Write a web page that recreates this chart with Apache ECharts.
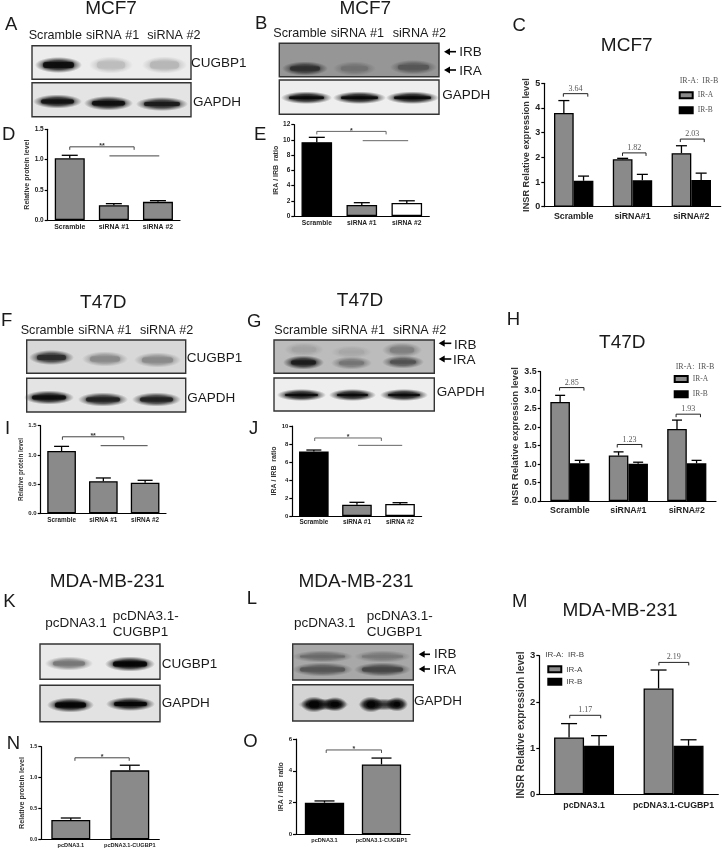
<!DOCTYPE html>
<html>
<head>
<meta charset="utf-8">
<title>CUGBP1</title>
<style>
html, body { margin: 0; padding: 0; background: #fff; }
#main { width: 726px; height: 852px; }
</style>
<script src="https://cdn.jsdelivr.net/npm/echarts@6/dist/echarts.min.js"></script>
</head>
<body>
<div id="main"></div>
<script>
// categories
var siCats = ['Scramble', 'siRNA #1', 'siRNA #2'];
var siCatsTight = ['Scramble', 'siRNA#1', 'siRNA#2'];
var pcCats = ['pcDNA3.1', 'pcDNA3.1-CUGBP1'];
var legendNames = ['IR-A', 'IR-B'];

// single-series panels: bar value and top of the error bar
var dValues = [1.02, 0.245, 0.30];
var dTops = [1.07, 0.27, 0.32];
var eValues = [9.7, 1.45, 1.72];
var eTops = [10.34, 1.75, 2.0];
var iValues = [1.067, 0.55, 0.525];
var iTops = [1.146, 0.605, 0.565];
var jValues = [7.18, 1.26, 1.33];
var jTops = [7.33, 1.52, 1.48];
var nValues = [0.313, 1.117];
var nTops = [0.345, 1.20];
var oValues = [1.99, 4.4];
var oTops = [2.10, 4.8];

// grouped panels
var cIRA = [3.8, 1.92, 2.17];
var cIRATops = [4.3, 1.96, 2.47];
var cIRB = [1.05, 1.07, 1.08];
var cIRBTops = [1.24, 1.31, 1.36];
var hIRA = [2.68, 1.23, 1.95];
var hIRATops = [2.86, 1.33, 2.19];
var hIRB = [1.02, 1.01, 1.02];
var hIRBTops = [1.10, 1.05, 1.10];
var mIRA = [1.23, 2.29];
var mIRATops = [1.53, 2.69];
var mIRB = [1.05, 1.05];
var mIRBTops = [1.27, 1.18];

// brackets: from category, to category, value, text
var dBrackets = [[0, 1.46, 1.21, '**'], [0.9, 2.03, 1.06, '']];
var eBrackets = [[0, 1.54, 11.12, '*'], [1.02, 2.03, 9.9, '']];
var iBrackets = [[0.02, 1.49, 1.31, '**'], [0.935, 2.06, 1.158, '']];
var jBrackets = [[0.02, 1.566, 8.67, '*'], [1.025, 2.05, 7.85, '']];
var nBrackets = [[0.07, 0.99, 1.32, '*']];
var oBrackets = [[0.03, 1.0, 5.31, '*']];
var cBrackets = [[-0.176, 0.24, 4.58, '3.64'], [0.83, 1.23, 2.18, '1.82'], [1.813, 2.22, 2.74, '2.03']];
var hBrackets = [[-0.177, 0.24, 3.07, '2.85'], [0.81, 1.23, 1.53, '1.23'], [1.817, 2.234, 2.35, '1.93']];
var mBrackets = [[-0.16, 0.186, 1.71, '1.17'], [0.836, 1.17, 2.855, '2.19']];

var GREY = '#8a8a8a';
var FONT = '"Liberation Sans", Arial, sans-serif';
var SERIF = '"Liberation Serif", serif';

var grids = [], xAxes = [], yAxes = [], seriesList = [], gfx = [];

function errorSeries(i, cats, tops, values, offset, capWidth) {
    return {
        type: 'custom', xAxisIndex: i, yAxisIndex: i, silent: true, z: 4, clip: false,
        encode: { x: 0, y: 1 },
        data: cats.map(function (c, k) { return [k, tops[k]]; }),
        renderItem: function (params, api) {
            var k = params.dataIndex;
            var step = api.size([1, 0])[0];
            var top = api.coord([k, tops[k]]);
            var base = api.coord([k, values[k]]);
            var x = top[0] + offset * step;
            var lineStyle = { stroke: '#000', lineWidth: 1.3, fill: null };
            return {
                type: 'group',
                children: [
                    { type: 'line', shape: { x1: x, y1: base[1], x2: x, y2: top[1] }, style: lineStyle },
                    { type: 'line', shape: { x1: x - capWidth / 2, y1: top[1], x2: x + capWidth / 2, y2: top[1] }, style: lineStyle }
                ]
            };
        }
    };
}

function bracketSeries(i, items, color, serifText) {
    return {
        type: 'custom', xAxisIndex: i, yAxisIndex: i, silent: true, z: 5, clip: false,
        encode: { x: 0, y: 2 },
        data: items.map(function (d) { return [0, 0, d[2]]; }),
        renderItem: function (params, api) {
            var d = items[params.dataIndex];
            var p0 = api.coord([0, d[2]]);
            var p1 = api.coord([1, d[2]]);
            var xa = p0[0] + d[0] * (p1[0] - p0[0]);
            var xb = p0[0] + d[1] * (p1[0] - p0[0]);
            var y = p0[1];
            var children = [];
            if (d[3]) {
                children.push({
                    type: 'polyline',
                    shape: { points: [[xa, y + 3], [xa, y], [xb, y], [xb, y + 3]] },
                    style: { stroke: color, lineWidth: 1, fill: null }
                });
                children.push({
                    type: 'text',
                    style: {
                        text: d[3], x: (xa + xb) / 2, y: serifText ? y - 1 : y + 3,
                        textAlign: 'center', textVerticalAlign: 'bottom',
                        font: serifText ? '8px ' + SERIF : 'bold 7px ' + FONT,
                        fill: serifText ? '#555' : '#333'
                    }
                });
            } else {
                children.push({
                    type: 'line', shape: { x1: xa, y1: y, x2: xb, y2: y },
                    style: { stroke: color, lineWidth: 1, fill: null }
                });
            }
            return { type: 'group', children: children };
        }
    };
}

// one grid with its two axes
function addAxes(p) {
    var i = grids.length;
    grids.push({ left: p.left, top: p.top, width: p.width, height: p.height, containLabel: false });
    xAxes.push({
        gridIndex: i, type: 'category', data: p.cats,
        axisLine: { lineStyle: { color: '#000', width: 1.2 } },
        axisTick: { alignWithLabel: true, length: 2, lineStyle: { color: '#000', width: 1 } },
        axisLabel: { interval: 0, margin: p.xMargin, fontFamily: FONT, fontWeight: 'bold', fontSize: p.xSize, color: '#222' }
    });
    yAxes.push({
        gridIndex: i, type: 'value', min: 0, max: p.max, interval: p.interval,
        name: p.yName, nameLocation: 'middle', nameGap: p.nameGap,
        nameTextStyle: { fontFamily: FONT, fontWeight: 'bold', fontSize: p.nameSize, color: '#333' },
        splitLine: { show: false },
        axisLine: { show: true, lineStyle: { color: '#000', width: 1.2 } },
        axisTick: { show: true, length: 3, lineStyle: { color: '#000', width: 1.2 } },
        axisLabel: {
            margin: 4, fontFamily: FONT, fontWeight: 'bold', fontSize: p.ySize, color: '#222',
            formatter: p.decimals ? function (v) { return v.toFixed(p.decimals); } : null
        }
    });
    return i;
}

function singlePanel(p) {
    var i = addAxes(p);
    seriesList.push({
        type: 'bar', xAxisIndex: i, yAxisIndex: i, barWidth: p.barWidth,
        data: p.values.map(function (v, k) {
            return { value: v, itemStyle: { color: p.colors[k], borderColor: '#000', borderWidth: 1.3 } };
        })
    });
    seriesList.push(errorSeries(i, p.cats, p.tops, p.values, 0, p.capWidth));
    seriesList.push(bracketSeries(i, p.brackets, p.bracketColor, false));
}

function groupedPanel(p) {
    var i = addAxes(p);
    seriesList.push({
        type: 'bar', name: legendNames[0], xAxisIndex: i, yAxisIndex: i, barWidth: '33.5%', barGap: '0%',
        itemStyle: { color: GREY, borderColor: '#000', borderWidth: 1.3 }, data: p.ira
    });
    seriesList.push({
        type: 'bar', name: legendNames[1], xAxisIndex: i, yAxisIndex: i, barWidth: '33.5%', barGap: '0%',
        itemStyle: { color: '#000', borderColor: '#000', borderWidth: 1.3 }, data: p.irb
    });
    seriesList.push(errorSeries(i, p.cats, p.iraTops, p.ira, -0.1675, p.capWidth));
    seriesList.push(errorSeries(i, p.cats, p.irbTops, p.irb, 0.1675, p.capWidth));
    seriesList.push(bracketSeries(i, p.brackets, '#222', true));
}

singlePanel({ left: 47.7, top: 129.3, width: 132.3, height: 90.7, cats: siCats, values: dValues, tops: dTops, brackets: dBrackets, bracketColor: '#444', colors: [GREY, GREY, GREY], max: 1.5, interval: 0.5, decimals: 1, yName: 'Relative protein level', nameGap: 15, nameSize: 7, xSize: 6.9, ySize: 6.5, xMargin: 3.5, barWidth: '68%', capWidth: 16 });
singlePanel({ left: 294.3, top: 124.7, width: 135, height: 91.3, cats: siCats, values: eValues, tops: eTops, brackets: eBrackets, bracketColor: '#666', colors: ['#000', GREY, '#fff'], max: 12, interval: 2, yName: 'IRA / IRB  ratio', nameGap: 13, nameSize: 7, xSize: 6.7, ySize: 6.5, xMargin: 3.5, barWidth: '68%', capWidth: 16 });
groupedPanel({ left: 544.3, top: 83.3, width: 176.4, height: 123.4, cats: siCatsTight, ira: cIRA, iraTops: cIRATops, irb: cIRB, irbTops: cIRBTops, brackets: cBrackets, max: 5, interval: 1, yName: 'INSR Relative expression level', nameGap: 12, nameSize: 9.2, xSize: 8.8, ySize: 9, xMargin: 5.5, capWidth: 11 });

singlePanel({ left: 40.7, top: 425.7, width: 125.3, height: 87.6, cats: siCats, values: iValues, tops: iTops, brackets: iBrackets, bracketColor: '#444', colors: [GREY, GREY, GREY], max: 1.5, interval: 0.5, decimals: 1, yName: 'Relative protein level', nameGap: 14, nameSize: 6.3, xSize: 6.4, ySize: 6, xMargin: 3.5, barWidth: '68.6%', capWidth: 15 });
singlePanel({ left: 292.3, top: 426, width: 129.3, height: 90, cats: siCats, values: jValues, tops: jTops, brackets: jBrackets, bracketColor: '#666', colors: ['#000', GREY, '#fff'], max: 10, interval: 2, yName: 'IRA / IRB  ratio', nameGap: 13, nameSize: 7, xSize: 6.4, ySize: 6, xMargin: 3.5, barWidth: '68.7%', capWidth: 15 });
groupedPanel({ left: 540.7, top: 371.7, width: 175.3, height: 129.3, cats: siCatsTight, ira: hIRA, iraTops: hIRATops, irb: hIRB, irbTops: hIRBTops, brackets: hBrackets, max: 3.5, interval: 0.5, decimals: 1, yName: 'INSR Relative expression level', nameGap: 19, nameSize: 9.5, xSize: 8.8, ySize: 8.9, xMargin: 5.5, capWidth: 10 });

singlePanel({ left: 41.3, top: 746.7, width: 118, height: 92.6, cats: pcCats, values: nValues, tops: nTops, brackets: nBrackets, bracketColor: '#444', colors: [GREY, GREY], max: 1.5, interval: 0.5, decimals: 1, yName: 'Relative protein level', nameGap: 10, nameSize: 7.2, xSize: 5.6, ySize: 5.5, xMargin: 3.5, barWidth: '66%', capWidth: 20 });
singlePanel({ left: 296, top: 739, width: 114, height: 95.3, cats: pcCats, values: oValues, tops: oTops, brackets: oBrackets, bracketColor: '#555', colors: ['#000', GREY], max: 6, interval: 2, yName: 'IRA / IRB  ratio', nameGap: 7, nameSize: 7, xSize: 5.6, ySize: 6, xMargin: 3.5, barWidth: '69%', capWidth: 20 });
groupedPanel({ left: 539.3, top: 655.7, width: 179, height: 138.6, cats: pcCats, ira: mIRA, iraTops: mIRATops, irb: mIRB, irbTops: mIRBTops, brackets: mBrackets, max: 3, interval: 1, yName: 'INSR Relative expression level', nameGap: 12, nameSize: 10.1, xSize: 8.8, ySize: 9.5, xMargin: 7, capWidth: 16 });

// ---- text and blots ----
function text(str, x, y, size, opt) {
    opt = opt || {};
    gfx.push({
        type: 'text', z: 20, silent: true,
        style: {
            text: str, x: x, y: y, fill: opt.fill || '#1a1a1a',
            font: size + 'px ' + (opt.family || FONT),
            textAlign: opt.align || 'left', textVerticalAlign: 'middle'
        }
    });
}

// band = [x1, x2, y1, y2, colour]
function blot(x1, x2, y1, y2, bg, bands) {
    gfx.push({ type: 'rect', z: 10, silent: true, shape: { x: x1, y: y1, width: x2 - x1, height: y2 - y1 }, style: { fill: bg } });
    bands.forEach(function (b) {
        var clear = echarts.color.modifyAlpha(b[4], 0);
        var soft = new echarts.graphic.RadialGradient(0.5, 0.5, 0.5, [
            { offset: 0, color: b[4] },
            { offset: 0.55, color: echarts.color.modifyAlpha(b[4], 0.75) },
            { offset: 1, color: clear }
        ]);
        // square gradient stretched sideways into a soft ellipse
        var w = b[1] - b[0] + 12, h = b[3] - b[2] + 9;
        gfx.push({
            type: 'rect', z: 11, silent: true,
            x: (b[0] + b[1]) / 2, y: (b[2] + b[3]) / 2, scaleX: w / h,
            shape: { x: -h / 2, y: -h / 2, width: h, height: h },
            style: { fill: soft }
        });
        // core of the band
        var ch = b[3] - b[2];
        gfx.push({
            type: 'rect', z: 11, silent: true,
            shape: { x: b[0] + 2, y: b[2] + 0.5, width: b[1] - b[0] - 4, height: Math.max(ch - 1, 1), r: ch / 2 },
            style: { fill: b[4], opacity: 0.8, shadowBlur: 2, shadowColor: b[4] }
        });
    });
    gfx.push({ type: 'rect', z: 12, silent: true, shape: { x: x1, y: y1, width: x2 - x1, height: y2 - y1 }, style: { fill: null, stroke: '#333', lineWidth: 1.4 } });
}

function arrow(x1, x2, y) {
    gfx.push({ type: 'polygon', z: 20, silent: true, shape: { points: [[x1, y], [x1 + 6, y - 3.5], [x1 + 6, y + 3.5]] }, style: { fill: '#000' } });
    gfx.push({ type: 'line', z: 20, silent: true, shape: { x1: x1 + 5, y1: y, x2: x2, y2: y }, style: { stroke: '#000', lineWidth: 1.6 } });
}

// A
text('MCF7', 111, 9, 19, { align: 'center' });
text('A', 5, 25, 18.5);
text('Scramble', 28.7, 35.7, 12.6); text('siRNA #1', 86, 35.7, 12.6); text('siRNA #2', 147.3, 35.7, 12.6);
blot(32, 191, 45.7, 79.3, '#ececec', [[41, 76, 61.5, 68.5, '#0c0c0c'], [95, 127, 61, 69, '#bdbdbd'], [148, 181, 61, 69, '#b6b6b6']]);
blot(32, 191, 82.7, 116.7, '#e4e4e4', [[39, 76, 99, 104, '#111'], [90, 127, 100.5, 106, '#0e0e0e'], [142, 182, 101.5, 106.5, '#1a1a1a']]);
text('CUGBP1', 191, 63, 13.5); text('GAPDH', 193, 102, 13.5);
text('D', 2, 135, 18.5);

// B
text('MCF7', 365.3, 9, 19, { align: 'center' });
text('B', 255, 24, 18.5);
text('Scramble', 273.3, 33.3, 12.6); text('siRNA #1', 330.7, 33.3, 12.6); text('siRNA #2', 392.7, 33.3, 12.6);
blot(279.3, 439, 43.3, 76.7, '#969696', [[288, 322, 66, 71, '#2e2e2e'], [339, 370, 66, 71, '#707070'], [396, 431, 64.5, 70, '#565656']]);
blot(279.3, 439, 80, 114.3, '#eeeeee', [[287, 326, 96, 99.5, '#0a0a0a'], [339, 380, 96, 99.5, '#0a0a0a'], [392, 433, 96, 99.5, '#0a0a0a']]);
arrow(444, 456, 51.7); arrow(444, 456, 70);
text('IRB', 459.3, 52, 13.5); text('IRA', 459.3, 71, 13.5); text('GAPDH', 442.3, 95.3, 13.5);
text('E', 254, 135, 18.5);

// C
text('C', 512.5, 26, 18.5);
text('MCF7', 626.7, 45.3, 19, { align: 'center' });
text('IR-A:  IR-B', 679.7, 81, 8, { family: SERIF, fill: '#555' });

// F
text('T47D', 103.3, 302.7, 19, { align: 'center' });
text('F', 1, 320.7, 18.5);
text('Scramble', 20.7, 330.7, 12.6); text('siRNA #1', 78.3, 330.7, 12.6); text('siRNA #2', 140, 330.7, 12.6);
blot(26.7, 185.7, 340, 373.3, '#d8d8d8', [[35, 68, 354.5, 360.5, '#2c2c2c'], [88, 122, 356, 362, '#8a8a8a'], [140, 175, 357, 363, '#8a8a8a']]);
blot(26.7, 185.7, 378.3, 412, '#e4e4e4', [[30, 68, 395, 400, '#0c0c0c'], [84, 122, 397, 402, '#222'], [138, 175, 397, 402, '#222']]);
text('CUGBP1', 186.7, 358.3, 13.5); text('GAPDH', 187.3, 398.3, 13.5);
text('I', 5, 429.3, 18.5);

// G
text('T47D', 360, 300.7, 19, { align: 'center' });
text('G', 247, 321.7, 18.5);
text('Scramble', 274.3, 330.7, 12.6); text('siRNA #1', 331.7, 330.7, 12.6); text('siRNA #2', 393, 330.7, 12.6);
blot(274, 434.3, 340, 373.3, '#bcbcbc', [[289, 318, 360, 365, '#1c1c1c'], [337, 366, 361, 365, '#747474'], [388, 418, 360, 364, '#505050'], [290, 318, 347, 352, '#a2a2a2'], [337, 366, 350, 354, '#a6a6a6'], [388, 416, 347, 353, '#808080']]);
blot(274, 434.3, 378, 411, '#eeeeee', [[283, 320, 393.5, 396.5, '#0a0a0a'], [335, 370, 393.5, 396.5, '#0a0a0a'], [386, 422, 393.5, 396.5, '#0a0a0a']]);
arrow(438.7, 451.3, 343.3); arrow(438.7, 451.3, 359);
text('IRB', 454, 345, 13.5); text('IRA', 453, 360, 13.5); text('GAPDH', 436.7, 392.3, 13.5);
text('J', 249, 429, 18.5);

// H
text('H', 506.7, 320, 18.5);
text('T47D', 622.3, 342.7, 19, { align: 'center' });
text('IR-A:  IR-B', 675.7, 366.7, 8, { family: SERIF, fill: '#555' });

// K
text('MDA-MB-231', 107.3, 582, 19, { align: 'center' });
text('K', 3.3, 601.7, 18.5);
text('pcDNA3.1', 45.3, 623.3, 13.5); text('pcDNA3.1-', 112.7, 616, 13.5); text('CUGBP1', 112.7, 632.3, 13.5);
blot(40, 160, 644, 679.3, '#eaeaea', [[51, 87, 661, 666, '#777'], [111, 149, 661, 667, '#050505']]);
blot(40, 160, 685.3, 721.7, '#e2e2e2', [[53, 88, 702, 708, '#050505'], [112, 149, 701.5, 706.5, '#050505']]);
text('CUGBP1', 161.7, 664, 13.5); text('GAPDH', 161.7, 703.3, 13.5);
text('N', 6.7, 744.3, 18.5);

// L
text('MDA-MB-231', 356, 582, 19, { align: 'center' });
text('L', 246.7, 599, 18.5);
text('pcDNA3.1', 294, 623.3, 13.5); text('pcDNA3.1-', 366.7, 616, 13.5); text('CUGBP1', 366.7, 632.3, 13.5);
blot(292.7, 413.3, 644, 680, '#a8a8a8', [[298, 347, 655, 658, '#696969'], [360, 405, 655, 658, '#777'], [298, 347, 667, 672, '#555'], [360, 405, 667, 672, '#454545']]);
blot(292.7, 413.3, 684.7, 721, '#d4d4d4', [[304, 343, 703, 706, '#333'], [307, 321, 701, 708, '#050505'], [329, 341, 701.5, 707, '#050505'], [364, 401, 703, 706, '#333'], [365, 377, 701, 708, '#050505'], [392, 402, 701.5, 707, '#050505']]);
arrow(418.7, 430, 654.3); arrow(418.7, 430, 669);
text('IRB', 434, 654.3, 13.5); text('IRA', 433.5, 670.7, 13.5); text('GAPDH', 414, 701.7, 13.5);
text('O', 243.3, 742.3, 18.5);

// M
text('M', 512, 601.7, 18.5);
text('MDA-MB-231', 620, 610.7, 19, { align: 'center' });
text('IR-A:  IR-B', 545.3, 655, 8, { fill: '#444' });

function legendAt(left, top, gap, family, size, color) {
    return {
        data: legendNames, orient: 'vertical', left: left, top: top, padding: 0, selectedMode: false,
        itemWidth: 13, itemHeight: 6, itemGap: gap, icon: 'rect',
        textStyle: { fontFamily: family, fontSize: size, color: color }
    };
}

var myChart = echarts.init(document.getElementById('main'), null, { renderer: 'canvas' });
myChart.setOption({
    animation: false,
    backgroundColor: '#fff',
    grid: grids,
    xAxis: xAxes,
    yAxis: yAxes,
    legend: [
        legendAt(678.7, 91.3, 7, SERIF, 7.5, '#555'),
        legendAt(673.7, 375, 7.3, SERIF, 7.5, '#555'),
        legendAt(547.3, 665.3, 4.5, FONT, 8, '#444')
    ],
    series: seriesList,
    graphic: { elements: gfx }
});
</script>
</body>
</html>
